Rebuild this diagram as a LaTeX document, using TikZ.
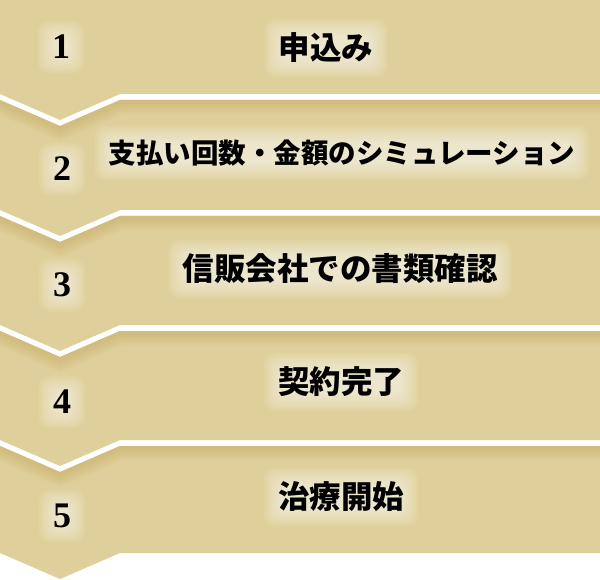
\documentclass[tikz,border=0pt]{standalone}
\usepackage{fontspec}
\newfontfamily\jpfont{Noto Sans CJK JP}
\newfontfamily\numfont{Liberation Serif}
\definecolor{bandtan}{HTML}{DFD09B}
\definecolor{shadetan}{HTML}{C9AE68}
\pgfdeclarelayer{bands}
\pgfdeclarelayer{halo}
\pgfsetlayers{bands,halo,main}
\tikzset{
    band/.style={fill=bandtan},
    edgeshade/.style={shadetan, opacity=0.1},
    num/.style={font=\numfont\bfseries\fontsize{36}{36}\selectfont, inner sep=0pt},
    title/.style={font=\jpfont\bfseries\fontsize{31.5}{32}\selectfont, inner sep=0pt},
    longtitle/.style={title, font=\jpfont\bfseries\fontsize{27.5}{28}\selectfont},
    halobox/.style={white, opacity=0.075, rounded corners=11pt},
}
% 文字の後ろの白いぼかし
\newcommand{\halo}[1]{%
    \begin{pgfonlayer}{halo}
    \foreach \gr in {-4,-2,...,14}
        \fill[halobox] ([shift={(-\gr,\gr)}]#1.south west) rectangle ([shift={(\gr,-\gr)}]#1.north east);
    \end{pgfonlayer}}

\begin{document}
\begin{tikzpicture}[x=1pt, y=-1pt]
    \useasboundingbox (0,0) rectangle (600,580);

    \begin{pgfonlayer}{bands}
    \fill[white] (0,0) rectangle (600,580);

    % 1段目
    \fill[band] (0,0) -- (600,0) -- (600,94) -- (120,94) -- (60,120) -- (0,94) -- cycle;

    % 2段目
    \fill[band] (0,100) -- (60,126) -- (120,100) -- (600,100) -- (600,210) -- (120,210) -- (60,236) -- (0,210) -- cycle;
    \begin{scope}
        \clip (0,100) -- (60,126) -- (120,100) -- (600,100) -- (600,210) -- (0,210) -- cycle;
        \foreach \w in {4,8,...,28}
            \draw[edgeshade, line width=\w pt] (0,100) -- (60,126) -- (120,100) -- (600,100);
    \end{scope}

    % 3段目
    \fill[band] (0,216) -- (60,242) -- (120,216) -- (600,216) -- (600,325) -- (120,325) -- (60,351) -- (0,325) -- cycle;
    \begin{scope}
        \clip (0,216) -- (60,242) -- (120,216) -- (600,216) -- (600,325) -- (0,325) -- cycle;
        \foreach \w in {4,8,...,28}
            \draw[edgeshade, line width=\w pt] (0,216) -- (60,242) -- (120,216) -- (600,216);
    \end{scope}

    % 4段目
    \fill[band] (0,331) -- (60,357) -- (120,331) -- (600,331) -- (600,440) -- (120,440) -- (60,466) -- (0,440) -- cycle;
    \begin{scope}
        \clip (0,331) -- (60,357) -- (120,331) -- (600,331) -- (600,440) -- (0,440) -- cycle;
        \foreach \w in {4,8,...,28}
            \draw[edgeshade, line width=\w pt] (0,331) -- (60,357) -- (120,331) -- (600,331);
    \end{scope}

    % 5段目
    \fill[band] (0,446) -- (60,472) -- (120,446) -- (600,446) -- (600,553) -- (120,553) -- (60,579) -- (0,553) -- cycle;
    \begin{scope}
        \clip (0,446) -- (60,472) -- (120,446) -- (600,446) -- (600,553) -- (0,553) -- cycle;
        \foreach \w in {4,8,...,28}
            \draw[edgeshade, line width=\w pt] (0,446) -- (60,472) -- (120,446) -- (600,446);
    \end{scope}
    \end{pgfonlayer}

    % 番号
    \node[num] (n1) at (61,47) {1};
    \node[num] (n2) at (62,169) {2};
    \node[num] (n3) at (62,285) {3};
    \node[num] (n4) at (62,402) {4};
    \node[num] (n5) at (62,516) {5};

    % 各ステップ
    \node[title] (t1) at (326,48) {申込み};
    \node[longtitle] (t2) at (342,153) {支払い回数・金額のシミュレーション};
    \node[title] (t3) at (340,269) {信販会社での書類確認};
    \node[title] (t4) at (341,382) {契約完了};
    \node[title] (t5) at (341,497) {治療開始};

    \halo{n1} \halo{n2} \halo{n3} \halo{n4} \halo{n5}
    \halo{t1} \halo{t2} \halo{t3} \halo{t4} \halo{t5}
\end{tikzpicture}
\end{document}
